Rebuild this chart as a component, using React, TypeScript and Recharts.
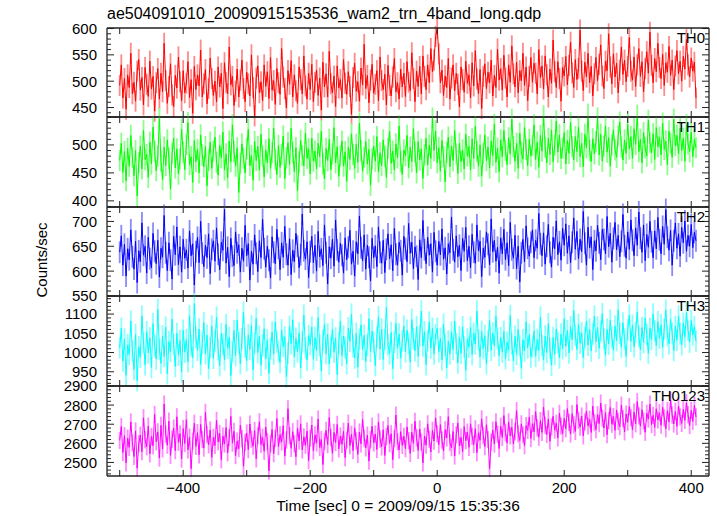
import React from 'react';
import { LineChart, Line, XAxis, YAxis, ErrorBar } from 'recharts';

// count rates per 2.5 s bin
const TH0 = [
  492, 531, 468, 505, 447, 512, 488, 553, 476, 498, 462, 519, 541, 483, 507, 455, 526, 494, 471, 538,
  485, 509, 443, 497, 524, 466, 515, 480, 572, 501, 458, 490, 533, 474, 452, 511, 487, 546, 499, 463,
  520, 478, 496, 537, 469, 503, 439, 528, 484, 512, 491, 559, 470, 495, 522, 457, 486, 544, 505, 473,
  500, 461, 527, 489, 515, 448, 535, 497, 476, 565, 493, 509, 454, 481, 523, 470, 502, 540, 486, 461,
  517, 495, 472, 550, 488, 434, 506, 529, 478, 499, 463, 531, 490, 518, 467, 545, 483, 501, 456, 524,
  497, 475, 562, 508, 486, 449, 520, 494, 539, 470, 512, 482, 458, 527, 503, 476, 548, 491, 466, 515,
  484, 532, 461, 498, 521, 473, 506, 445, 536, 489, 514, 470, 557, 495, 478, 510, 452, 529, 487, 503,
  468, 541, 496, 475, 518, 490, 437, 507, 534, 481, 499, 462, 525, 493, 570, 486, 511, 459, 502, 532,
  477, 494, 520, 463, 546, 501, 484, 513, 455, 530, 492, 472, 508, 543, 480, 497, 466, 523, 489, 515,
  471, 537, 498, 482, 554, 505, 461, 519, 490, 528, 476, 548, 509, 484, 531, 497, 562, 518, 540, 585,
  600, 552, 497, 521, 473, 510, 488, 543, 466, 506, 531, 482, 515, 494, 451, 527, 503, 479, 538, 496,
  512, 468, 535, 491, 558, 504, 476, 522, 448, 509, 533, 486, 517, 497, 540, 472, 511, 488, 561, 502,
  524, 483, 549, 506, 470, 531, 498, 567, 514, 489, 536, 478, 520, 501, 553, 492, 527, 463, 509, 545,
  498, 534, 515, 476, 560, 507, 529, 485, 548, 512, 470, 523, 496, 578, 518, 488, 537, 505, 462, 526,
  510, 547, 493, 530, 574, 516, 488, 541, 503, 524, 597, 519, 482, 536, 508, 553, 497, 528, 472, 514,
  545, 501, 532, 569, 510, 486, 538, 520, 590, 527, 495, 552, 508, 534, 478, 521, 565, 513, 540, 499,
  528, 583, 519, 502, 546, 490, 531, 562, 509, 537, 480, 524, 556, 515, 593, 530, 497, 543, 518, 572,
  526, 505, 551, 492, 535, 517, 566, 511, 540, 484, 529, 558, 514, 538, 500, 547, 523, 579, 531, 508,
  544, 519, 536, 468,
];
const TH1 = [
  472, 503, 451, 488, 436, 494, 462, 517, 478, 445, 490, 409, 468, 498, 457, 526, 474, 483, 442, 505,
  466, 532, 489, 454, 480, 547, 471, 438, 496, 463, 509, 476, 421, 485, 512, 459, 493, 448, 475, 528,
  487, 456, 501, 540, 465, 479, 433, 508, 470, 492, 450, 518, 482, 461, 497, 427, 473, 505, 458, 489,
  514, 469, 446, 499, 477, 523, 455, 484, 441, 507, 470, 536, 488, 462, 495, 415, 467, 502, 476, 450,
  493, 528, 463, 481, 437, 506, 472, 497, 455, 519, 480, 443, 491, 468, 511, 458, 486, 530, 474, 447,
  499, 460, 483, 516, 440, 477, 504, 465, 530, 487, 452, 495, 418, 470, 508, 481, 463, 521, 476, 493,
  448, 512, 471, 489, 457, 503, 479, 525, 466, 439, 494, 472, 510, 456, 484, 531, 468, 497, 444, 480,
  507, 462, 488, 435, 496, 474, 520, 483, 458, 501, 469, 539, 490, 453, 478, 506, 466, 492, 428, 475,
  498, 471, 515, 452, 486, 463, 509, 480, 442, 494, 524, 467, 489, 455, 502, 477, 534, 470, 447, 491,
  481, 517, 459, 496, 470, 529, 487, 450, 506, 473, 493, 440, 482, 512, 464, 500, 476, 548, 490, 525,
  468, 495, 453, 508, 479, 434, 487, 514, 461, 498, 472, 526, 484, 449, 503, 470, 491, 457, 519, 480,
  497, 455, 511, 476, 533, 488, 462, 500, 444, 485, 518, 472, 496, 459, 507, 481, 537, 469, 494, 452,
  509, 479, 526, 490, 465, 513, 484, 546, 497, 471, 503, 458, 521, 486, 475, 531, 492, 463, 510, 480,
  499, 536, 474, 505, 460, 517, 489, 552, 496, 468, 512, 483, 527, 470, 500, 543, 487, 518, 476, 494,
  522, 466, 508, 485, 540, 497, 473, 515, 488, 532, 479, 503, 461, 519, 495, 555, 490, 470, 511, 484,
  506, 548, 482, 519, 471, 498, 534, 487, 513, 462, 500, 527, 491, 478, 516, 541, 496, 473, 509, 485,
  537, 493, 515, 476, 529, 501, 553, 488, 510, 468, 522, 495, 480, 544, 505, 486, 520, 474, 531, 497,
  514, 482, 539, 492, 507, 465, 525, 503, 478, 546, 499, 517, 484, 530, 490, 512, 471, 536, 502, 488,
  523, 479, 510, 495,
];
const TH2 = [
  638, 671, 612, 654, 590, 645, 623, 683, 629, 604, 660, 577, 641, 619, 697, 632, 650, 596, 668, 625,
  607, 676, 640, 615, 662, 588, 646, 628, 712, 637, 601, 657, 622, 584, 670, 633, 689, 613, 649, 598,
  664, 626, 643, 606, 681, 631, 655, 572, 639, 668, 617, 700, 636, 609, 652, 627, 675, 595, 644, 661,
  620, 687, 634, 603, 658, 642, 724, 616, 648, 589, 666, 630, 611, 679, 637, 653, 598, 646, 620, 692,
  631, 655, 582, 640, 614, 673, 636, 599, 661, 627, 704, 645, 608, 650, 622, 586, 669, 638, 615, 684,
  646, 603, 657, 628, 690, 634, 612, 665, 593, 642, 619, 676, 650, 607, 633, 715, 641, 624, 659, 587,
  639, 670, 617, 652, 600, 680, 629, 645, 611, 693, 637, 574, 649, 626, 664, 610, 703, 643, 618, 656,
  632, 596, 667, 623, 648, 682, 614, 640, 590, 659, 635, 711, 647, 621, 673, 604, 652, 628, 580, 666,
  627, 651, 609, 689, 638, 616, 662, 597, 644, 675, 625, 653, 601, 686, 634, 612, 658, 641, 592, 670,
  645, 619, 696, 636, 658, 605, 649, 630, 583, 663, 627, 702, 643, 615, 668, 632, 655, 598, 678, 640,
  612, 660, 633, 685, 624, 647, 594, 655, 637, 709, 643, 618, 671, 629, 652, 601, 666, 640, 688, 621,
  650, 607, 674, 638, 616, 693, 641, 660, 589, 646, 628, 679, 654, 613, 705, 639, 662, 620, 648, 596,
  667, 635, 684, 623, 657, 611, 698, 643, 626, 672, 605, 650, 578, 637, 664, 619, 691, 646, 630, 658,
  683, 627, 662, 646, 716, 655, 631, 677, 614, 650, 694, 638, 608, 668, 645, 701, 633, 659, 622, 686,
  652, 695, 636, 671, 617, 658, 707, 644, 680, 625, 664, 639, 720, 656, 612, 688, 647, 669, 603, 661,
  641, 692, 657, 623, 684, 664, 635, 710, 649, 676, 618, 666, 698, 643, 672, 629, 660, 714, 651, 626,
  679, 644, 703, 662, 631, 687, 652, 719, 666, 638, 693, 621, 674, 648, 700, 659, 627, 681, 645, 708,
  663, 635, 690, 654, 724, 668, 642, 682, 612, 661, 697, 646, 675, 630, 688, 657, 701, 640, 672, 650,
  694, 647, 678, 661,
];
const TH3 = [
  1012, 1063, 978, 1035, 941, 1020, 995, 1082, 1004, 956, 1047, 927, 1015, 988, 1095, 1026, 968, 1054, 999, 1038,
  961, 1075, 1018, 983, 1112, 1009, 972, 1043, 990, 1066, 945, 1028, 1003, 1087, 1021, 964, 1050, 993, 1031, 950,
  1058, 1001, 1034, 976, 1096, 1017, 987, 1127, 1040, 1006, 1061, 969, 1024, 1078, 997, 1045, 958, 1013, 1069, 985,
  1030, 1092, 1007, 966, 1049, 1022, 981, 1073, 1011, 1039, 940, 1002, 1057, 992, 1084, 1026, 971, 1036, 1105, 1014,
  979, 1046, 1008, 1070, 955, 1025, 1089, 1000, 1042, 967, 1019, 1062, 984, 1033, 946, 1010, 1053, 996, 1080, 1027,
  1004, 974, 1059, 1016, 1041, 937, 998, 1068, 1023, 1085, 989, 1037, 1002, 1051, 960, 1028, 1097, 1012, 980, 1044,
  1021, 1066, 983, 1039, 1006, 1091, 1018, 952, 1032, 1074, 997, 1048, 970, 1014, 1060, 1001, 1038, 943, 1025, 1082,
  992, 1043, 1013, 971, 1064, 1029, 1100, 1015, 986, 1050, 962, 1035, 1072, 1008, 1045, 977, 1019, 1088, 1003, 1056,
  1026, 966, 1040, 1093, 1009, 1061, 982, 1034, 1117, 1020, 997, 1052, 958, 1027, 1076, 1011, 1048, 985, 1030, 1069,
  1002, 1058, 1024, 975, 1086, 1036, 1005, 1067, 990, 1044, 1108, 1017, 1054, 968, 1031, 1079, 1012, 1063, 996, 1046,
  1063, 1002, 1037, 981, 1074, 1019, 960, 1030, 996, 1053, 1008, 1082, 1023, 973, 1041, 998, 1067, 1014, 954, 1035,
  1014, 1066, 995, 1050, 1022, 1108, 1033, 988, 1055, 1010, 1044, 971, 1029, 1083, 1006, 1051, 1017, 1094, 1036, 992,
  1039, 1001, 1055, 984, 1027, 1006, 1096, 1023, 978, 1042, 995, 1060, 1017, 959, 1033, 1004, 1080, 1012, 1047, 988,
  1015, 1056, 990, 1034, 1005, 1092, 1019, 981, 1043, 1000, 1075, 1012, 967, 1039, 995, 1061, 1026, 986, 1048, 1010,
  1088, 1016, 1057, 999, 1067, 1033, 1109, 1045, 1008, 1073, 1024, 1051, 987, 1039, 1082, 1019, 1061, 1004, 1048, 1095,
  1028, 1066, 1011, 1055, 1101, 1036, 993, 1060, 1022, 1084, 1040, 1006, 1069, 1031, 1111, 1050, 1014, 1077, 1035, 990,
  1059, 1097, 1029, 1071, 1015, 1053, 1106, 1042, 1007, 1065, 1026, 1089, 1047, 998, 1063, 1034, 1100, 1056, 1018, 1080,
  1037, 1072, 1013, 1061, 1110, 1044, 1023, 1086, 1051, 1005, 1068, 1032, 1095, 1049, 1020, 1076, 1041, 1104, 1058, 1027,
  1083, 1046, 1067, 1030,
];
const TH0123 = [
  2615, 2688, 2552, 2640, 2498, 2627, 2579, 2712, 2603, 2531, 2665, 2470, 2598, 2643, 2556, 2734, 2619, 2582, 2690, 2545,
  2636, 2587, 2751, 2608, 2660, 2523, 2694, 2571, 2806, 2648, 2590, 2716, 2537, 2622, 2680, 2562, 2739, 2605, 2650, 2518,
  2677, 2599, 2724, 2566, 2633, 2468, 2611, 2705, 2584, 2656, 2540, 2699, 2620, 2575, 2762, 2646, 2592, 2670, 2527, 2631,
  2589, 2720, 2608, 2652, 2514, 2638, 2596, 2683, 2550, 2629, 2741, 2601, 2663, 2536, 2612, 2572, 2695, 2625, 2480, 2605,
  2654, 2567, 2701, 2621, 2585, 2667, 2519, 2640, 2713, 2594, 2632, 2558, 2685, 2610, 2456, 2598, 2672, 2546, 2626, 2730,
  2583, 2645, 2607, 2692, 2533, 2618, 2781, 2640, 2574, 2661, 2597, 2530, 2678, 2613, 2702, 2565, 2634, 2590, 2664, 2509,
  2627, 2696, 2560, 2644, 2601, 2727, 2578, 2620, 2489, 2611, 2668, 2593, 2735, 2630, 2548, 2657, 2604, 2699, 2571, 2638,
  2595, 2663, 2525, 2616, 2706, 2588, 2647, 2562, 2681, 2613, 2542, 2659, 2597, 2724, 2628, 2576, 2643, 2507, 2619, 2690,
  2602, 2649, 2568, 2712, 2622, 2581, 2671, 2536, 2635, 2693, 2599, 2650, 2514, 2624, 2748, 2608, 2565, 2661, 2589, 2637,
  2572, 2686, 2614, 2547, 2658, 2600, 2715, 2629, 2563, 2675, 2606, 2498, 2637, 2590, 2702, 2621, 2555, 2668, 2612, 2733,
  2649, 2593, 2698, 2617, 2560, 2671, 2628, 2740, 2603, 2577, 2662, 2534, 2645, 2706, 2586, 2632, 2557, 2687, 2614, 2659,
  2579, 2702, 2637, 2594, 2676, 2551, 2655, 2616, 2728, 2640, 2583, 2697, 2620, 2468, 2607, 2669, 2596, 2713, 2648, 2573,
  2690, 2631, 2745, 2656, 2602, 2712, 2639, 2684, 2597, 2661, 2771, 2650, 2615, 2702, 2645, 2588, 2693, 2668, 2738, 2625,
  2703, 2660, 2766, 2681, 2632, 2719, 2657, 2790, 2694, 2646, 2728, 2611, 2686, 2742, 2669, 2705, 2628, 2757, 2690, 2651,
  2731, 2676, 2782, 2710, 2648, 2755, 2697, 2662, 2803, 2720, 2684, 2743, 2639, 2712, 2769, 2691, 2726, 2657, 2795, 2708,
  2672, 2750, 2703, 2811, 2732, 2680, 2761, 2645, 2719, 2788, 2700, 2740, 2668, 2774, 2714, 2687, 2800, 2729, 2660, 2753,
  2711, 2792, 2735, 2671, 2764, 2702, 2818, 2744, 2690, 2776, 2716, 2658, 2758, 2727, 2805, 2698, 2746, 2683, 2781, 2722,
  2760, 2695, 2789, 2733, 2676, 2771, 2712, 2826, 2748, 2701, 2767, 2689, 2795, 2739, 2704, 2778, 2720, 2812, 2750, 2693,
  2772, 2715, 2798, 2738,
];

// 1-sigma errors per bin for each band
const ERRORS = [20, 19, 22, 28, 45];

const T_START = -500;
const T_BIN = 2.5;
const TIMES = TH0.map((_, i) => T_START + i * T_BIN);

const X_TICKS = [-500, -400, -300, -200, -100, 0, 100, 200, 300, 400];
const X_LABELS = [-400, -200, 0, 200, 400];

const range = (a: number, b: number, step: number) => {
  const out: number[] = [];
  for (let v = a; v <= b; v += step) out.push(v);
  return out;
};

const panels = [
  { name: 'TH0', values: TH0, color: '#ff0000', light: '#ff8a8a', domain: [432, 601], ticks: [450, 500, 550, 600], minor: range(440, 600, 10) },
  { name: 'TH1', values: TH1, color: '#00ff00', light: '#8aff8a', domain: [389, 550], ticks: [400, 450, 500], minor: range(390, 550, 10) },
  { name: 'TH2', values: TH2, color: '#0000ff', light: '#8a8aff', domain: [550, 729], ticks: [550, 600, 650, 700], minor: range(550, 720, 10) },
  { name: 'TH3', values: TH3, color: '#00ffff', light: '#8affff', domain: [913, 1147], ticks: [950, 1000, 1050, 1100], minor: range(920, 1140, 10) },
  { name: 'TH0123', values: TH0123, color: '#ff00ff', light: '#ff8aff', domain: [2429, 2900], ticks: [2500, 2600, 2700, 2800, 2900], minor: range(2440, 2900, 20) },
];

const EDGES = [28, 117, 207, 296, 386, 476];
const W = 717;
const LEFT = 107;
const RIGHT = 709;
const PAD = 25;
const FONT = '"Liberation Sans", Arial, Helvetica, sans-serif';
const AXIS = '#222';

const minus = (v: number) => (v < 0 ? '\u2212' + Math.abs(v) : String(v));

function Panel({ p, idx }: { p: (typeof panels)[number]; idx: number }) {
  const top = EDGES[idx];
  const h = EDGES[idx + 1] - top;
  const data = TIMES.map((t, i) => ({ t, v: p.values[i], e: ERRORS[idx] }));
  const last = idx === panels.length - 1;
  const bottomY = PAD + h;

  const leftTick = (props: any) => {
    const { y, payload } = props;
    const major = p.ticks.includes(payload.value);
    return (
      <g>
        <line x1={LEFT} x2={LEFT + (major ? 7 : 4)} y1={y} y2={y} stroke={AXIS} strokeWidth={1} />
        {major && (
          <text x={LEFT - 10} y={y} dy="0.36em" textAnchor="end" fontSize={15} fill="#000" fontFamily={FONT}>
            {payload.value}
          </text>
        )}
      </g>
    );
  };
  const rightTick = (props: any) => {
    const { y, payload } = props;
    const major = p.ticks.includes(payload.value);
    return <line x1={RIGHT} x2={RIGHT - (major ? 7 : 4)} y1={y} y2={y} stroke={AXIS} strokeWidth={1} />;
  };
  const bottomTick = (props: any) => {
    const { x, payload } = props;
    return (
      <g>
        <line x1={x} x2={x} y1={bottomY} y2={bottomY - 6} stroke={AXIS} strokeWidth={1} />
        {last && X_LABELS.includes(payload.value) && (
          <text x={x} y={bottomY + 17} textAnchor="middle" fontSize={15} fill="#000" fontFamily={FONT}>
            {minus(payload.value)}
          </text>
        )}
      </g>
    );
  };
  const topTick = (props: any) => {
    const { x } = props;
    return <line x1={x} x2={x} y1={PAD} y2={PAD + 6} stroke={AXIS} strokeWidth={1} />;
  };

  return (
    <div style={{ position: 'absolute', left: 0, top: top - PAD }}>
      <LineChart
        width={W}
        height={h + PAD * 2}
        data={data}
        margin={{ top: 0, bottom: 0, left: 0, right: 0 }}
      >
        <XAxis
          xAxisId="b"
          dataKey="t"
          type="number"
          domain={[-520, 428]}
          allowDataOverflow
          ticks={X_TICKS}
          interval={0}
          height={PAD}
          orientation="bottom"
          stroke={AXIS}
          strokeWidth={1.3}
          tickLine={false}
          tick={bottomTick}
        />
        <XAxis
          xAxisId="t"
          dataKey="t"
          type="number"
          domain={[-520, 428]}
          allowDataOverflow
          ticks={X_TICKS}
          interval={0}
          height={PAD}
          orientation="top"
          stroke={AXIS}
          strokeWidth={1.3}
          tickLine={false}
          tick={topTick}
        />
        <YAxis
          yAxisId="l"
          type="number"
          domain={p.domain}
          allowDataOverflow
          ticks={p.minor}
          interval={0}
          width={LEFT}
          stroke={AXIS}
          strokeWidth={1.3}
          tickLine={false}
          tick={leftTick}
        />
        <YAxis
          yAxisId="r"
          orientation="right"
          type="number"
          domain={p.domain}
          allowDataOverflow
          ticks={p.minor}
          interval={0}
          width={W - RIGHT}
          stroke={AXIS}
          strokeWidth={1.3}
          tickLine={false}
          tick={rightTick}
        />
        <Line
          xAxisId="b"
          yAxisId="l"
          dataKey="v"
          type="linear"
          stroke={p.color}
          strokeWidth={1}
          dot={false}
          isAnimationActive={false}
        >
          <ErrorBar dataKey="e" width={0} stroke={p.light} strokeWidth={1.8} direction="y" isAnimationActive={false} />
        </Line>
      </LineChart>
    </div>
  );
}

export default function App() {
  return (
    <div style={{ position: 'absolute', left: 0, top: 0, width: W, height: 516, background: '#fff', fontFamily: FONT }}>
      {panels.map((p, i) => (
        <Panel key={p.name} p={p} idx={i} />
      ))}
      <svg width={W} height={516} style={{ position: 'absolute', left: 0, top: 0, pointerEvents: 'none' }}>
        <text x={LEFT} y={19} fontSize={16} fill="#000" fontFamily={FONT}>
          ae504091010_20090915153536_wam2_trn_4band_long.qdp
        </text>
        {panels.map((p, i) => (
          <text key={p.name} x={705} y={EDGES[i] + 15} fontSize={15} fill="#000" textAnchor="end" fontFamily={FONT}>
            {p.name}
          </text>
        ))}
        <text x={47} y={260} fontSize={15} fill="#000" textAnchor="middle" fontFamily={FONT} transform="rotate(-90 47 260)">
          Counts/sec
        </text>
        <text x={398} y={511} fontSize={15.5} fill="#000" textAnchor="middle" fontFamily={FONT}>
          Time [sec] 0 = 2009/09/15 15:35:36
        </text>
      </svg>
    </div>
  );
}
